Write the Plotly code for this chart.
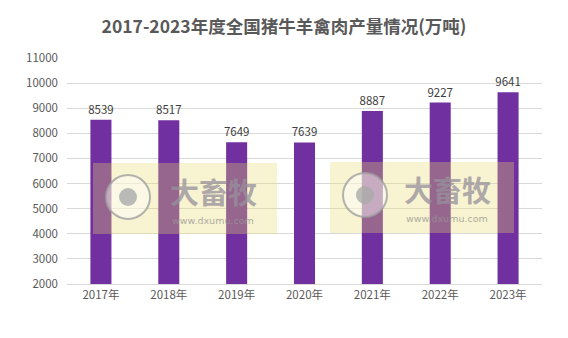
import plotly.graph_objects as go

years = ["2017年", "2018年", "2019年", "2020年", "2021年", "2022年", "2023年"]
values = [8539, 8517, 7649, 7639, 8887, 9227, 9641]
y_ticks = list(range(2000, 11001, 1000))

W, H = 568, 338
L, R, T, B = 67, 26, 58, 54
PW, PH = W - L - R, H - T - B

def px(x):
    return (x - L) / PW

def py(y):
    return (H - B - y) / PH

font = "Noto Sans CJK SC, Microsoft YaHei, sans-serif"

fig = go.Figure(go.Bar(
    x=years, y=values,
    marker=dict(color="#7030A0", line=dict(width=0)),
    width=0.31,
    text=[str(v) for v in values],
    textposition="outside",
    constraintext="none",
    textfont=dict(size=11.5, color="#404040", family=font),
    cliponaxis=False,
))

shapes = []
annotations = []
for (rx0, ry0, rx1, ry1, cx, cy, tx) in [(93, 163, 277, 234, 128, 197, 213),
                                          (330, 162, 514, 233, 365, 195, 447)]:
    shapes.append(dict(type="rect", xref="paper", yref="paper",
                       x0=px(rx0), x1=px(rx1), y0=py(ry1), y1=py(ry0),
                       fillcolor="rgba(232,218,110,0.32)", line=dict(width=0), layer="above"))
    r = 22
    shapes.append(dict(type="circle", xref="paper", yref="paper",
                       x0=px(cx - r), x1=px(cx + r), y0=py(cy + r), y1=py(cy - r),
                       fillcolor="rgba(255,255,255,0.45)", line=dict(color="rgba(160,160,160,0.8)", width=2), layer="above"))
    r2 = 9
    shapes.append(dict(type="circle", xref="paper", yref="paper",
                       x0=px(cx - r2), x1=px(cx + r2), y0=py(cy + r2), y1=py(cy - r2),
                       fillcolor="rgba(170,170,170,0.8)", line=dict(width=0), layer="above"))
    annotations.append(dict(text="<b>大畜牧</b>", xref="paper", yref="paper", x=px(tx), y=py(cy - 6),
                            showarrow=False, font=dict(size=29, color="rgba(150,145,155,0.75)", family=font),
                            xanchor="center", yanchor="middle", borderpad=0))
    annotations.append(dict(text="www.dxumu.com", xref="paper", yref="paper", x=px(tx), y=py(cy + 23),
                            showarrow=False, font=dict(size=9.5, color="rgba(150,150,150,0.8)", family="DejaVu Sans"),
                            xanchor="center", yanchor="middle", borderpad=0))

fig.update_layout(
    width=W, height=H,
    margin=dict(l=L, r=R, t=T, b=B),
    paper_bgcolor="white", plot_bgcolor="white",
    title=dict(text="<b>2017-2023年度全国猪牛羊禽肉产量情况(万吨)</b>", x=0.5, xanchor="center",
               y=1 - 27 / H, yanchor="middle",
               font=dict(size=17.5, color="#595959", family=font)),
    showlegend=False,
    xaxis=dict(showgrid=False, showline=True, linecolor="#D9D9D9", linewidth=1,
               ticks="", tickfont=dict(size=11.5, color="#595959", family=font)),
    yaxis=dict(range=[2000, 11000], tickvals=y_ticks, ticktext=[str(v) for v in y_ticks],
               showgrid=True, gridcolor="#D9D9D9",
               gridwidth=1, zeroline=False, showline=False, ticks="",
               tickfont=dict(size=11.5, color="#595959", family=font), ticklabelstandoff=8),
    shapes=shapes,
    annotations=annotations,
)

fig.write_html("out.html")
